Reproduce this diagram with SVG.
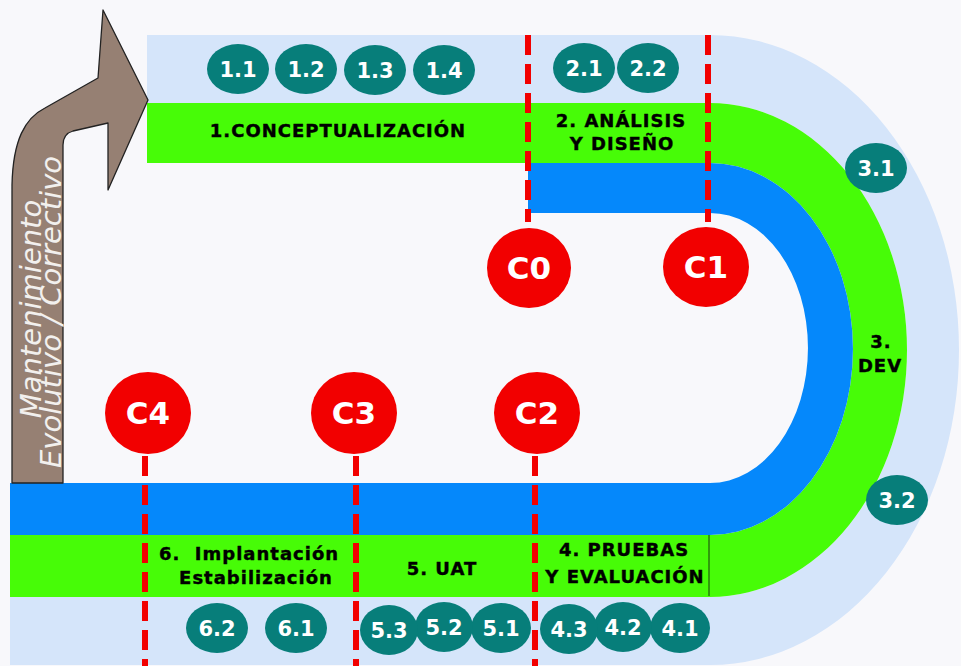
<svg xmlns="http://www.w3.org/2000/svg" width="961" height="666" viewBox="0 0 961 666">
<defs>
<style>
.lb{fill:#d5e5fa}
.gr{fill:#47fc07}
.bl{fill:#0588fb}
.cut{stroke:#f20000;stroke-width:6;stroke-dasharray:20 9;fill:none}
.cc{fill:#f20000}
.ct{font-family:"DejaVu Sans","Liberation Sans",sans-serif;font-weight:bold;font-size:31px;fill:#ffffff;text-anchor:middle}
.tk{fill:#077e7a}
.tt{font-family:"DejaVu Sans","Liberation Sans",sans-serif;font-weight:bold;font-size:21px;fill:#ffffff;text-anchor:middle}
.lab{font-family:"DejaVu Sans","Liberation Sans",sans-serif;font-weight:bold;font-size:18px;letter-spacing:1px;fill:#000000;stroke:#000000;stroke-width:0.4;text-anchor:middle;white-space:pre}
.arr{font-family:"DejaVu Sans","Liberation Sans",sans-serif;font-style:italic;font-size:29px;fill:#f2f0ee;text-anchor:middle}
</style>
</defs>
<rect width="961" height="666" fill="#f8f8fb"/>

<g id="bands">
<path class="lb" d="M147,35 H710 A249,315 0 0 1 710,665 H10 V597 H710 A197,247 0 0 0 710,103 H147 Z"/>
<path class="gr" d="M147,103 H710 A197,247 0 0 1 710,597 H10 V535 H710 A143,186 0 0 0 710,163 H147 Z"/>
<path class="bl" d="M528,163 H710 A143,186 0 0 1 710,535 H10 V483 H710 A98,135 0 0 0 710,213 H528 Z"/>
<line x1="709" y1="535" x2="709" y2="596" stroke="#1a3a10" stroke-width="1"/>
</g>

<g id="arrow">
<path d="M12,483 V185 C13,140 25,118 45,108 L98,78 L103,10 L148,100 L108,190 L108,123 L73,131 C66,133 63,137 63,145 V483 Z" fill="#968073" stroke="#222222" stroke-width="1.3" stroke-linejoin="round"/>
<text class="arr" transform="translate(41,309) rotate(-90)">Mantenimiento</text>
<text class="arr" transform="translate(61,312) rotate(-90)">Evolutivo / Correctivo</text>
</g>

<g id="connectors">
<line class="cut" x1="528" y1="35" x2="528" y2="222"/>
<line class="cut" x1="708" y1="35" x2="708" y2="222"/>
<line class="cut" x1="145" y1="456" x2="145" y2="666"/>
<line class="cut" x1="356" y1="456" x2="356" y2="666"/>
<line class="cut" x1="535" y1="456" x2="535" y2="666"/>
</g>

<g id="phase1"><text class="lab" x="338" y="137">1.CONCEPTUALIZACIÓN</text></g>
<g id="phase2"><text class="lab" x="621" y="127">2. ANÁLISIS</text><text class="lab" x="622" y="150">Y DISEÑO</text></g>
<g id="phase3"><text class="lab" x="881" y="348">3.</text><text class="lab" x="880" y="372">DEV</text></g>
<g id="phase4"><text class="lab" x="624" y="556">4. PRUEBAS</text><text class="lab" x="625" y="583">Y EVALUACIÓN</text></g>
<g id="phase5"><text class="lab" x="442" y="575">5. UAT</text></g>
<g id="phase6"><text class="lab" x="249" y="560">6.  Implantación</text><text class="lab" x="256" y="584">Estabilización</text></g>

<g id="C0"><ellipse class="cc" cx="529" cy="268" rx="42" ry="40"/><text class="ct" x="529" y="279">C0</text></g>
<g id="C1"><ellipse class="cc" cx="706" cy="267" rx="43" ry="40"/><text class="ct" x="706" y="278">C1</text></g>
<g id="C2"><ellipse class="cc" cx="537" cy="413" rx="43" ry="41"/><text class="ct" x="537" y="424">C2</text></g>
<g id="C3"><ellipse class="cc" cx="354" cy="413" rx="43" ry="41"/><text class="ct" x="354" y="424">C3</text></g>
<g id="C4"><ellipse class="cc" cx="148" cy="413" rx="43" ry="41"/><text class="ct" x="148" y="424">C4</text></g>

<g id="t1-1"><ellipse class="tk" cx="238" cy="69" rx="31" ry="25"/><text class="tt" x="238" y="77">1.1</text></g>
<g id="t1-2"><ellipse class="tk" cx="306" cy="69" rx="31" ry="25"/><text class="tt" x="306" y="77">1.2</text></g>
<g id="t1-3"><ellipse class="tk" cx="375" cy="70" rx="31" ry="25"/><text class="tt" x="375" y="78">1.3</text></g>
<g id="t1-4"><ellipse class="tk" cx="444" cy="70" rx="31" ry="25"/><text class="tt" x="444" y="78">1.4</text></g>
<g id="t2-1"><ellipse class="tk" cx="584" cy="68" rx="31" ry="25"/><text class="tt" x="584" y="76">2.1</text></g>
<g id="t2-2"><ellipse class="tk" cx="648" cy="68" rx="31" ry="25"/><text class="tt" x="648" y="76">2.2</text></g>
<g id="t3-1"><ellipse class="tk" cx="876" cy="168" rx="31" ry="25"/><text class="tt" x="876" y="176">3.1</text></g>
<g id="t3-2"><ellipse class="tk" cx="897" cy="500" rx="31" ry="25"/><text class="tt" x="897" y="508">3.2</text></g>
<g id="t4-1"><ellipse class="tk" cx="680" cy="628" rx="30" ry="25"/><text class="tt" x="680" y="636">4.1</text></g>
<g id="t4-2"><ellipse class="tk" cx="623" cy="627" rx="29" ry="25"/><text class="tt" x="623" y="635">4.2</text></g>
<g id="t4-3"><ellipse class="tk" cx="569" cy="629" rx="29" ry="25"/><text class="tt" x="569" y="637">4.3</text></g>
<g id="t5-1"><ellipse class="tk" cx="501" cy="628" rx="30" ry="25"/><text class="tt" x="501" y="636">5.1</text></g>
<g id="t5-2"><ellipse class="tk" cx="444" cy="627" rx="29" ry="25"/><text class="tt" x="444" y="635">5.2</text></g>
<g id="t5-3"><ellipse class="tk" cx="389" cy="630" rx="29" ry="25"/><text class="tt" x="389" y="638">5.3</text></g>
<g id="t6-1"><ellipse class="tk" cx="296" cy="628" rx="31" ry="25"/><text class="tt" x="296" y="636">6.1</text></g>
<g id="t6-2"><ellipse class="tk" cx="217" cy="628" rx="31" ry="25"/><text class="tt" x="217" y="636">6.2</text></g>
</svg>
